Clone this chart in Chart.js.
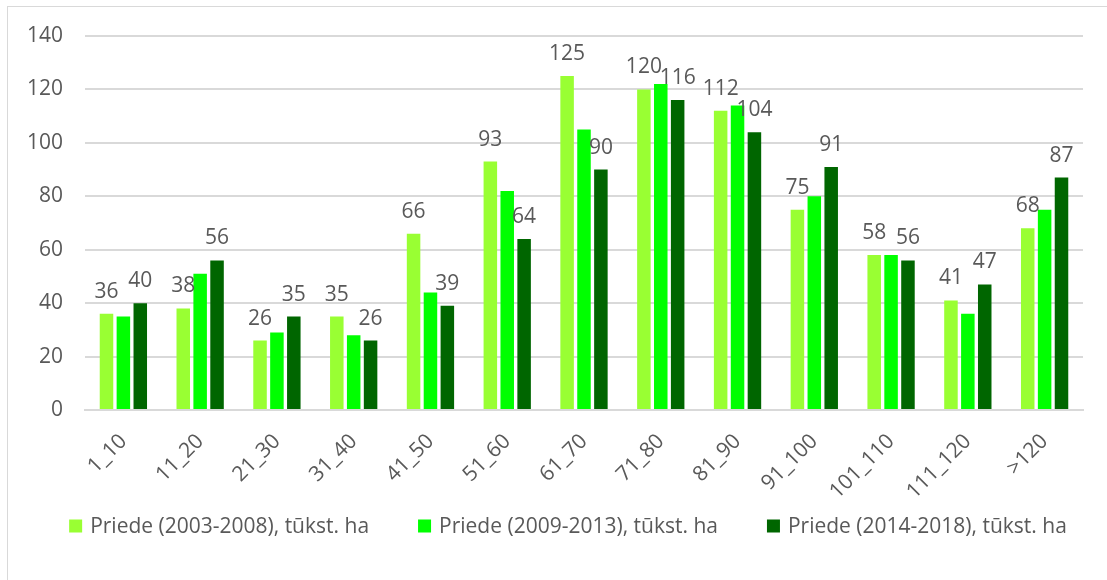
<!DOCTYPE html>
<html>
<head>
<meta charset="utf-8">
<script src="https://cdn.jsdelivr.net/npm/chart.js@4.4.1/dist/chart.umd.min.js"></script>
<style>
  html, body { margin: 0; padding: 0; background: #fff; overflow: hidden; }
  .frame {
    position: absolute; left: 7px; top: 6px; width: 1200px; height: 700px;
    border: 1px solid #d9d9d9;
  }
  .wrap { position: absolute; left: 8px; top: 7px; width: 1099px; height: 573px; }
</style>
</head>
<body>
<div class="frame"></div>
<div class="wrap"><canvas id="chart"></canvas></div>
<script>
// ── Data ──────────────────────────────────────────────────────────────────────
const categories = ['1_10', '11_20', '21_30', '31_40', '41_50', '51_60', '61_70',
                    '71_80', '81_90', '91_100', '101_110', '111_120', '>120']
const priede2003 = [36, 38, 26, 35, 66, 93, 125, 120, 112, 75, 58, 41, 68]
const priede2009 = [35, 51, 29, 28, 44, 82, 105, 122, 114, 80, 58, 36, 75]
const priede2014 = [40, 56, 35, 26, 39, 64, 90, 116, 104, 91, 56, 47, 87]
const seriesNames = ['Priede (2003-2008), tūkst. ha',
                     'Priede (2009-2013), tūkst. ha',
                     'Priede (2014-2018), tūkst. ha']
const yTicks = [0, 20, 40, 60, 80, 100, 120, 140]

const FONT = "'Open Sans', 'Liberation Sans', sans-serif"
const TEXT = '#595959'

// Value labels above bars (only first and last series carry them)
const barLabels = {
    id: 'barLabels',
    afterDatasetsDraw(chart) {
        const ctx = chart.ctx
        ctx.save()
        ctx.font = `21px ${FONT}`
        ctx.fillStyle = TEXT
        ctx.textAlign = 'center'
        ctx.textBaseline = 'alphabetic'
        chart.data.datasets.forEach((ds, i) => {
            if (!ds.showLabels) return
            chart.getDatasetMeta(i).data.forEach((bar, j) => {
                ctx.fillText(String(ds.data[j]), bar.x, bar.y - 16)
            })
        })
        ctx.restore()
    },
}

// Excel-style legend row: wider gaps than Chart.js's own legend allows
const bottomLegend = {
    id: 'bottomLegend',
    afterDraw(chart) {
        const ctx = chart.ctx
        const box = 13, gap = 8, spacing = 49
        const centerX = 560, centerY = 519
        ctx.save()
        ctx.font = `21px ${FONT}`
        ctx.textBaseline = 'middle'
        ctx.textAlign = 'left'
        const items = chart.data.datasets.map(ds => ({
            text: ds.label, color: ds.backgroundColor,
            w: box + gap + ctx.measureText(ds.label).width,
        }))
        const total = items.reduce((s, it) => s + it.w, 0) + spacing * (items.length - 1)
        let x = centerX - total / 2
        items.forEach(it => {
            ctx.fillStyle = it.color
            ctx.fillRect(x, centerY - box / 2, box, box)
            ctx.fillStyle = TEXT
            ctx.fillText(it.text, x + box + gap, centerY + 1)
            x += it.w + spacing
        })
        ctx.restore()
    },
}

new Chart(document.getElementById('chart'), {
    type: 'bar',
    data: {
        labels: categories,
        datasets: [
            { label: seriesNames[0], data: priede2003, backgroundColor: '#99ff33', showLabels: true },
            { label: seriesNames[1], data: priede2009, backgroundColor: '#00ff00', showLabels: false },
            { label: seriesNames[2], data: priede2014, backgroundColor: '#006600', showLabels: true },
        ],
    },
    options: {
        responsive: true,
        maintainAspectRatio: false,
        animation: false,
        categoryPercentage: 0.66,
        barPercentage: 0.8,
        layout: { padding: { left: 18, right: 24, top: 29, bottom: 70 } },
        plugins: {
            tooltip: { enabled: false },
            legend: { display: false },
        },
        scales: {
            x: {
                grid: { display: false },
                border: { color: '#d9d9d9', width: 2 },
                // fixed box so the rotated labels don't reshape the plot area
                afterFit: (axis) => {
                    axis.paddingLeft = 0
                    axis.paddingRight = 0
                    axis.height = 100
                },
                ticks: {
                    font: { family: FONT, size: 21 },
                    color: TEXT,
                    minRotation: 45,
                    maxRotation: 45,
                    padding: 11,
                },
            },
            y: {
                min: 0,
                max: 140,
                afterBuildTicks: (axis) => { axis.ticks = yTicks.map(v => ({ value: v })) },
                afterFit: (axis) => {
                    axis.width = 59
                    axis.paddingTop = 0
                    axis.paddingBottom = 0
                },
                grid: { color: '#d9d9d9', lineWidth: 2, drawTicks: false },
                border: { display: false },
                ticks: {
                    font: { family: FONT, size: 21 },
                    color: TEXT,
                    padding: 22,
                },
            },
        },
    },
    plugins: [barLabels, bottomLegend],
})
</script>
</body>
</html>
